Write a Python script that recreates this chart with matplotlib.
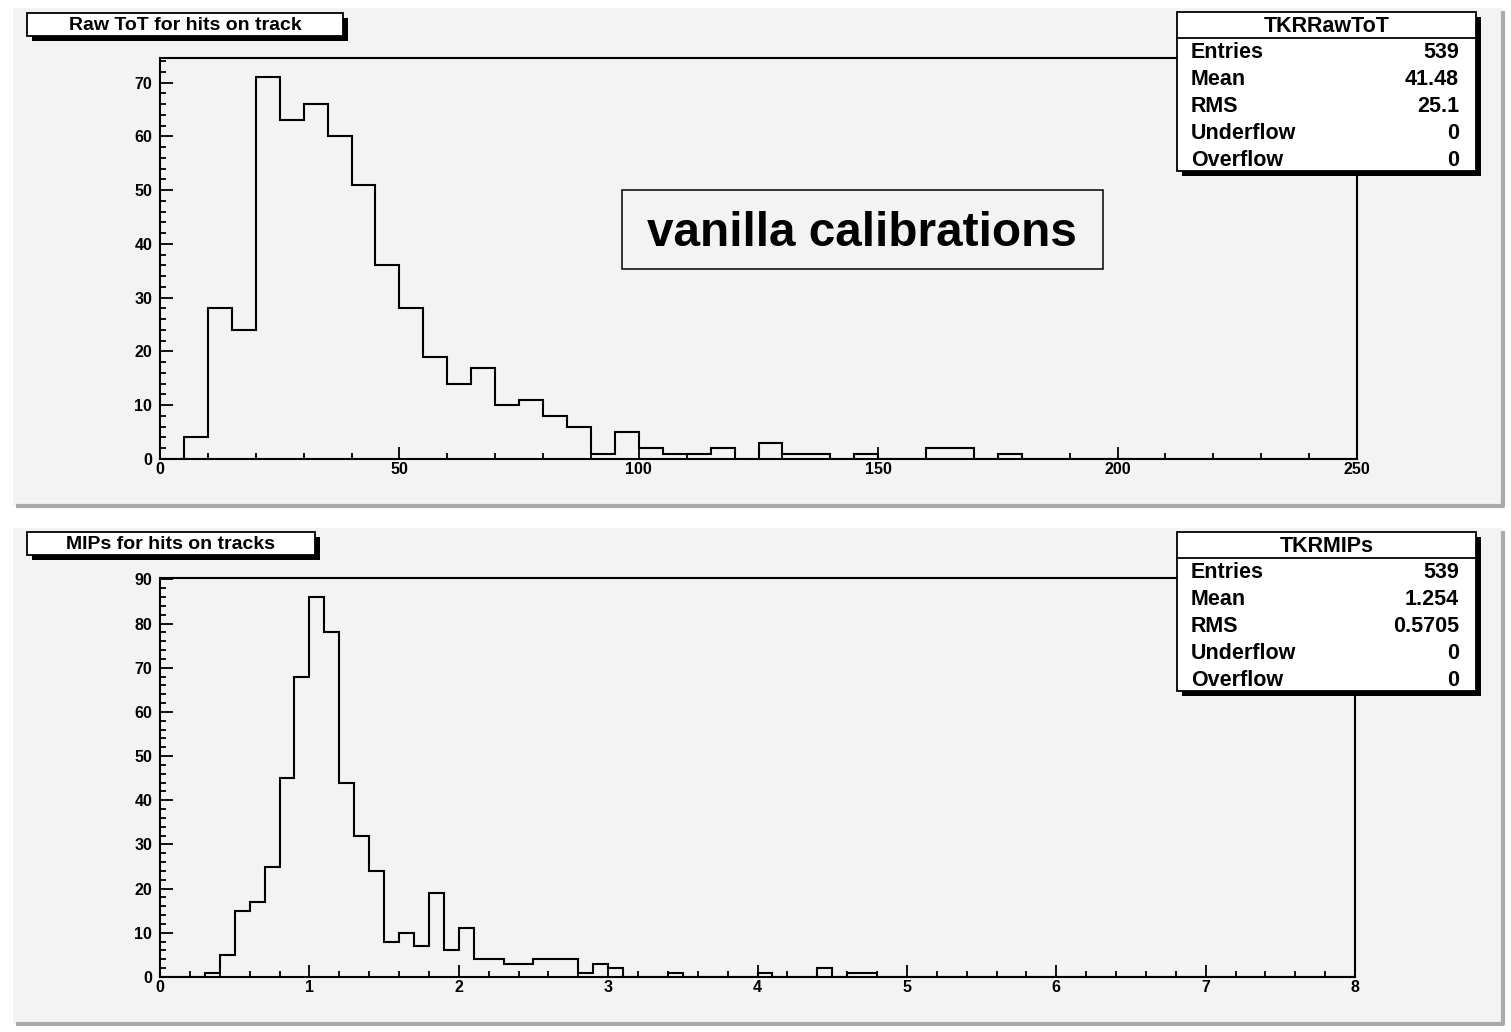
import numpy as np
import matplotlib
matplotlib.use("Agg")
import matplotlib.pyplot as plt
from matplotlib.patches import Rectangle
from matplotlib.ticker import MultipleLocator

# Raw ToT histogram, 50 bins of width 5 from 0 to 250
tot_counts = [0, 4, 28, 24, 71, 63, 66, 60, 51, 36,
              28, 19, 14, 17, 10, 11, 8, 6, 1, 5,
              2, 1, 1, 2, 0, 3, 1, 1, 0, 1,
              0, 0, 2, 2, 0, 1, 0, 0, 0, 0,
              0, 0, 0, 0, 0, 0, 0, 0, 0, 0]
tot_range = (0, 250)

# MIPs histogram, 80 bins of width 0.1 from 0 to 8
mip_counts = [0, 0, 0, 1, 5, 15, 17, 25, 45, 68,
              86, 78, 44, 32, 24, 8, 10, 7, 19, 6,
              11, 4, 4, 3, 3, 4, 4, 4, 1, 3,
              2, 0, 0, 0, 1, 0, 0, 0, 0, 0,
              1, 0, 0, 0, 2, 0, 1, 1, 0, 0,
              0, 0, 0, 0, 0, 0, 0, 0, 0, 0,
              0, 0, 0, 0, 0, 0, 0, 0, 0, 0,
              0, 0, 0, 0, 0, 0, 0, 0, 0, 0]
mip_range = (0, 8)

stat_labels = ["Entries", "Mean", "RMS", "Underflow", "Overflow"]
tot_stats = ["539", "41.48", "25.1", "0", "0"]
mip_stats = ["539", "1.254", "0.5705", "0", "0"]

W, H = 1511, 1032
FONT = "Liberation Sans"
PAD_COLOR = "#f3f3f3"

fig = plt.figure(figsize=(W / 100, H / 100), dpi=100)
fig.patch.set_facecolor("white")


def px_axes(x0, y0, x1, y1, z):
    return fig.add_axes([x0 / W, 1 - y1 / H, (x1 - x0) / W, (y1 - y0) / H], zorder=z)


def overlay(z):
    a = fig.add_axes([0, 0, 1, 1], zorder=z)
    a.set_xlim(0, W)
    a.set_ylim(H, 0)
    a.axis("off")
    a.patch.set_alpha(0)
    return a


bg = overlay(0)
fg = overlay(2)

# pads with a bevel border
for (x0, y0, x1, y1) in [(13, 8, 1503, 506), (13, 528, 1503, 1024)]:
    bg.add_patch(Rectangle((x0, y0), x1 - x0, y1 - y0, facecolor=PAD_COLOR, edgecolor="none"))
    bg.plot([x0 + 3, x1, x1], [y1, y1, y0 + 3], color="#aaaaaa", lw=3, solid_capstyle="butt")


def draw_hist(box, counts, rng, ymax, xmaj, xmin):
    ax = px_axes(*box, 1)
    ax.patch.set_alpha(0)
    edges = np.linspace(rng[0], rng[1], len(counts) + 1)
    ax.stairs(counts, edges, color="black", lw=1.5)
    ax.set_xlim(*rng)
    ax.set_ylim(0, ymax)
    for s in ax.spines.values():
        s.set_linewidth(1.5)
    ax.xaxis.set_major_locator(MultipleLocator(xmaj))
    ax.xaxis.set_minor_locator(MultipleLocator(xmin))
    ax.yaxis.set_major_locator(MultipleLocator(10))
    ax.yaxis.set_minor_locator(MultipleLocator(2))
    ax.tick_params(which="both", direction="in", top=False, right=False, width=1.3)
    ax.tick_params(which="major", length=9)
    ax.tick_params(which="minor", length=4.5)
    ax.tick_params(axis="x", pad=2)
    ax.tick_params(axis="y", pad=5.5)
    for lab in ax.get_xticklabels() + ax.get_yticklabels():
        lab.set_fontfamily(FONT)
        lab.set_fontweight("bold")
        lab.set_fontsize(11.5)
    return ax


draw_hist((160, 58, 1357, 459), tot_counts, tot_range, 74.6, 50, 10)
draw_hist((160, 578, 1355, 977), mip_counts, mip_range, 90.3, 1, 0.2)


def title_box(x0, y0, x1, y1, text):
    fg.add_patch(Rectangle((x0 + 5, y0 + 5), x1 - x0, y1 - y0, facecolor="black", edgecolor="none"))
    fg.add_patch(Rectangle((x0, y0), x1 - x0, y1 - y0, facecolor="white", edgecolor="black", lw=1.3))
    fg.text((x0 + x1) / 2, (y0 + y1) / 2 + 1, text, ha="center", va="center",
            fontsize=14, fontweight="bold", family=FONT)


title_box(27, 13, 343, 36, "Raw ToT for hits on track")
title_box(27, 532, 315, 555, "MIPs for hits on tracks")


def stats_box(y0, name, values):
    x0, x1 = 1177, 1476
    y1 = y0 + 159
    fg.add_patch(Rectangle((x0 + 5, y0 + 5), x1 - x0, y1 - y0, facecolor="black", edgecolor="none"))
    fg.add_patch(Rectangle((x0, y0), x1 - x0, y1 - y0, facecolor="white", edgecolor="black", lw=1.3))
    fg.plot([x0, x1], [y0 + 25.5, y0 + 25.5], color="black", lw=1.3)
    fg.text((x0 + x1) / 2, y0 + 15, name, ha="center", va="center",
            fontsize=15.5, fontweight="bold", family=FONT)
    for i, (lab, val) in enumerate(zip(stat_labels, values)):
        yy = y0 + 40.5 + i * 26.9
        fg.text(1191, yy, lab, ha="left", va="center", fontsize=15.5, fontweight="bold", family=FONT)
        fg.text(1459, yy, val, ha="right", va="center", fontsize=15.5, fontweight="bold", family=FONT)


stats_box(12, "TKRRawToT", tot_stats)
stats_box(532, "TKRMIPs", mip_stats)

# annotation box
fg.add_patch(Rectangle((622, 190), 481, 79, facecolor=PAD_COLOR, edgecolor="black", lw=1.1))
fg.text(862, 234, "vanilla calibrations", ha="center", va="center",
        fontsize=34.4, fontweight="bold", family=FONT)

fig.savefig("out.png", dpi=100)
